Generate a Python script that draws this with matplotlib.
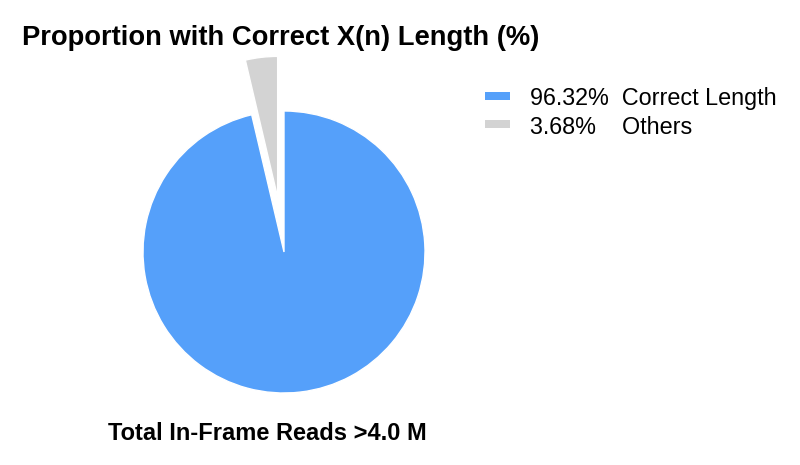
import matplotlib
matplotlib.use("Agg")
import matplotlib.pyplot as plt
from matplotlib.patches import Rectangle

# Data
labels = ["Correct Length", "Others"]
shares = [96.32, 3.68]
legend_labels = ["96.32%  Correct Length", "3.68%    Others"]
colors = ["#55a0fa", "#d3d3d3"]
explode = [0.0, 0.39]

title = "Proportion with Correct X(n) Length (%)"
footer = "Total In-Frame Reads >4.0 M"

plt.rcParams["font.family"] = ["Liberation Sans", "DejaVu Sans"]

W, H = 800, 465
fig = plt.figure(figsize=(W / 100, H / 100), dpi=100)

# pie axes: centre (284, 252) px, radius 141 px
cx, cy, r = 284, 252, 141
ax = fig.add_axes([(cx - r) / W, (H - cy - r) / H, 2 * r / W, 2 * r / H])
wedges, _ = ax.pie(shares, colors=colors, explode=explode, startangle=90,
                   counterclock=False, wedgeprops=dict(edgecolor="white", linewidth=1))
for w in wedges:
    w.set_clip_on(False)
ax.set_xlim(-1, 1)
ax.set_ylim(-1, 1)
ax.set_aspect("equal")
ax.axis("off")

fig.text(22 / W, 1 - 45 / H, title, fontsize=19.75, fontweight="bold",
         ha="left", va="baseline")
fig.text(108 / W, 1 - 440 / H, footer, fontsize=17, fontweight="bold",
         ha="left", va="baseline")

# legend rows
row_y = [96, 124]
for lab, col, y in zip(legend_labels, colors, row_y):
    fig.patches.append(Rectangle((485 / W, 1 - (y + 4) / H), 25 / W, 8 / H,
                                 transform=fig.transFigure, facecolor=col,
                                 edgecolor="none"))
    fig.text(530 / W, 1 - (y + 9.5) / H, lab, fontsize=16.8,
             ha="left", va="baseline")

fig.savefig("out.png", dpi=100)
